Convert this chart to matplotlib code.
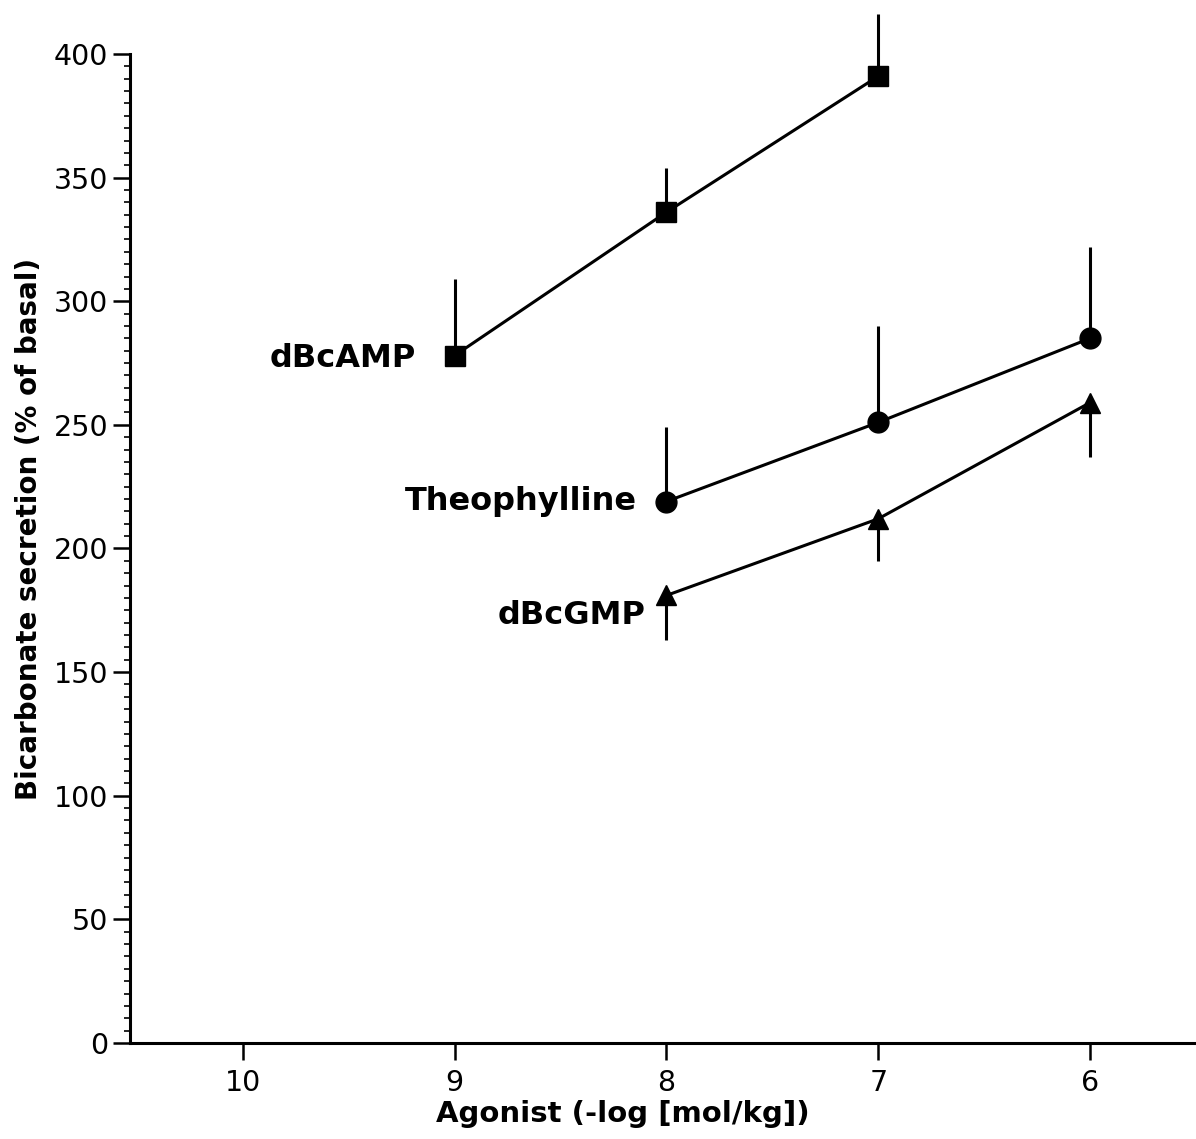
import matplotlib
matplotlib.use("Agg")
import matplotlib.pyplot as plt
from matplotlib.ticker import MultipleLocator

plt.rcParams["font.family"] = ["DejaVu Sans"]

# === Datos ===
camp_x = [9, 8, 7]
camp_y = [278, 336, 391]
camp_err = [31, 18, 25]          # solo hacia arriba

theo_x = [8, 7, 6]
theo_y = [219, 251, 285]
theo_err = [30, 39, 37]          # solo hacia arriba

gmp_x = [8, 7, 6]
gmp_y = [181, 212, 259]
gmp_err = [18, 17, 22]           # solo hacia abajo

x_ticks = [10, 9, 8, 7, 6]
y_ticks = [0, 50, 100, 150, 200, 250, 300, 350, 400]

# === Figura ===
fig = plt.figure(figsize=(11.96, 11.39), dpi=100)
ax = fig.add_axes([0.109, 0.0843, 0.891, 0.8683])

lw = 2.2
ax.errorbar(camp_x, camp_y, yerr=[[0] * 3, camp_err], fmt="s-", color="black",
            ms=15, lw=lw, elinewidth=lw, capsize=0, clip_on=False, zorder=3)
ax.errorbar(theo_x, theo_y, yerr=[[0] * 3, theo_err], fmt="o-", color="black",
            ms=15, lw=lw, elinewidth=lw, capsize=0, clip_on=False, zorder=3)
ax.errorbar(gmp_x, gmp_y, yerr=[gmp_err, [0] * 3], fmt="^-", color="black",
            ms=15, lw=lw, elinewidth=lw, capsize=0, clip_on=False, zorder=3)

# === Etiquetas de series ===
lbl = dict(fontsize=23, fontweight="bold", ha="right", va="center")
ax.text(9.18, 277, "dBcAMP", **lbl)
ax.text(8.14, 219, "Theophylline", **lbl)
ax.text(8.10, 173, "dBcGMP", **lbl)

# === Ejes ===
ax.set_xlim(10.53, 5.5)
ax.set_ylim(0, 400)
ax.set_xticks(x_ticks)
ax.set_xticklabels([str(v) for v in x_ticks])
ax.set_yticks(y_ticks)
ax.yaxis.set_minor_locator(MultipleLocator(5))

ax.spines["top"].set_visible(False)
ax.spines["right"].set_visible(False)
for s in ("left", "bottom"):
    ax.spines[s].set_linewidth(2.2)

ax.tick_params(axis="both", which="major", direction="out", length=12,
               width=1.8, labelsize=20.5, pad=4)
ax.tick_params(axis="x", which="major", pad=7)
ax.tick_params(axis="y", which="minor", direction="out", length=4.5, width=1.2)

ax.set_xlabel("Agonist (-log [mol/kg])", fontsize=21, fontweight="bold")
ax.set_ylabel("Bicarbonate secretion (% of basal)", fontsize=20, fontweight="bold")
ax.xaxis.set_label_coords(0.462, -0.058)
ax.yaxis.set_label_coords(-0.082, 0.52)

fig.savefig("out.png", dpi=100)
